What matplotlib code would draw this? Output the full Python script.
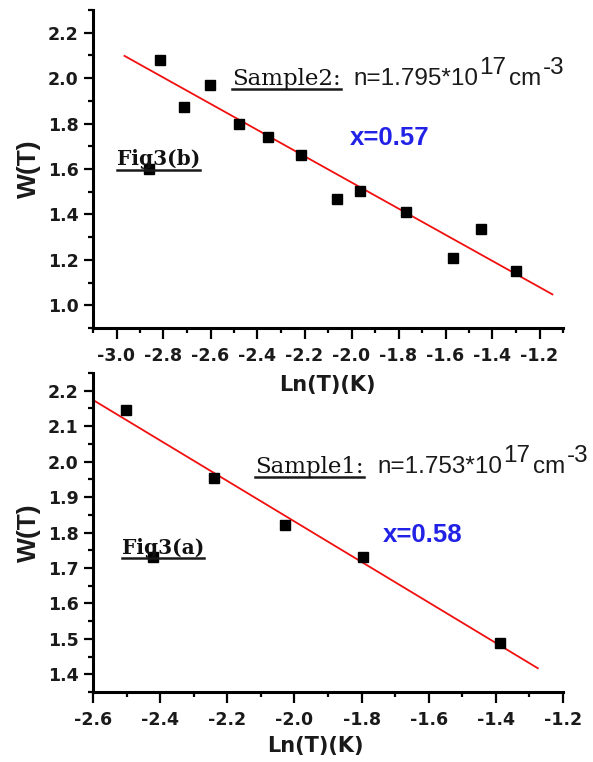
import matplotlib
matplotlib.use("Agg")
import matplotlib.pyplot as plt
from matplotlib.ticker import MultipleLocator, FormatStrFormatter
from matplotlib.lines import Line2D

# ---- Sample 2 : Fig3(b) ----
lnT_b = [-2.817, -2.711, -2.604, -2.477, -2.357, -2.213, -2.060, -1.962,
         -1.770, -1.570, -1.451, -1.298, -2.860]
W_b = [2.081, 1.871, 1.971, 1.796, 1.740, 1.661, 1.468, 1.503,
       1.411, 1.210, 1.337, 1.149, 1.600]
fit_x_b = [-2.966, -1.145]
fit_y_b = [2.098, 1.048]

# ---- Sample 1 : Fig3(a) ----
lnT_a = [-2.501, -2.421, -2.239, -2.027, -1.797, -1.388]
W_a = [2.146, 1.731, 1.954, 1.821, 1.731, 1.488]
fit_x_a = [-2.600, -1.275]
fit_y_a = [2.174, 1.417]

xlabel = "Ln(T)(K)"
ylabel = "W(T)"

W_PX, H_PX = 593, 762
DPI = 100
plt.rcParams["axes.unicode_minus"] = False

fig = plt.figure(figsize=(W_PX / DPI, H_PX / DPI), dpi=DPI)
fig.patch.set_facecolor("white")


def px_axes(left, top, right, bottom):
    ax = fig.add_axes([left / W_PX, 1 - bottom / H_PX,
                       (right - left) / W_PX, (bottom - top) / H_PX])
    ax.patch.set_visible(False)
    return ax


def style(ax, xmaj, xmin, ymaj, ymin):
    for s in ("top", "right"):
        ax.spines[s].set_visible(False)
    for s in ("left", "bottom"):
        ax.spines[s].set_linewidth(2.2)
    ax.xaxis.set_major_locator(MultipleLocator(xmaj))
    ax.xaxis.set_minor_locator(MultipleLocator(xmin))
    ax.yaxis.set_major_locator(MultipleLocator(ymaj))
    ax.yaxis.set_minor_locator(MultipleLocator(ymin))
    ax.xaxis.set_major_formatter(FormatStrFormatter("%.1f"))
    ax.yaxis.set_major_formatter(FormatStrFormatter("%.1f"))
    ax.tick_params(axis="x", which="major", direction="out", length=8,
                   width=1.6, pad=5.5)
    ax.tick_params(axis="x", which="minor", direction="out", length=3.5,
                   width=1.6)
    ax.tick_params(axis="y", which="major", direction="out", length=6.5,
                   width=1.6, pad=4)
    ax.tick_params(axis="y", which="minor", direction="out", length=3.5,
                   width=1.6)
    for lab in ax.get_xticklabels() + ax.get_yticklabels():
        lab.set_fontfamily("DejaVu Sans")
        lab.set_fontweight("bold")
        lab.set_fontsize(12.5)
        lab.set_color("#1a1a1a")
    ax.set_ylabel(ylabel, family="Liberation Sans", weight="bold",
                  fontsize=19, va="center", color="#1a1a1a")
    ax.set_xlabel(xlabel, family="DejaVu Sans", weight="bold",
                  fontsize=15, va="center", color="#1a1a1a")


# top panel
ax_b = px_axes(93, 10, 563, 328)
ax_b.plot(fit_x_b, fit_y_b, color="#f01010", lw=1.3, zorder=2)
ax_b.plot(lnT_b, W_b, "s", color="black", ms=6.5, zorder=3)
ax_b.set_xlim(-3.1, -1.1)
ax_b.set_ylim(0.9, 2.3)
style(ax_b, 0.2, 0.1, 0.2, 0.1)
ax_b.yaxis.set_label_coords((29 - 93) / 470, 0.5)
ax_b.xaxis.set_label_coords((327.5 - 93) / 470, (328 - 385) / 318)

# bottom panel
ax_a = px_axes(93, 373, 563, 692)
ax_a.plot(fit_x_a, fit_y_a, color="#f01010", lw=1.3, zorder=2)
ax_a.plot(lnT_a, W_a, "s", color="black", ms=6.5, zorder=3)
ax_a.set_xlim(-2.6, -1.2)
ax_a.set_ylim(1.35, 2.25)
style(ax_a, 0.2, 0.1, 0.1, 0.05)
ax_a.yaxis.set_label_coords((29 - 93) / 470, 0.5)
ax_a.xaxis.set_label_coords((315.5 - 93) / 470, (692 - 746) / 319)

fig.canvas.draw()
renderer = fig.canvas.get_renderer()


def put(x_px, base_px, s, **kw):
    return fig.text(x_px / W_PX, 1 - base_px / H_PX, s, ha="left",
                    va="baseline", **kw)


def underline(t, base_px, offset=4, lw=1.8):
    bb = t.get_window_extent(renderer)
    y = 1 - (base_px + offset) / H_PX
    fig.add_artist(Line2D([bb.x0 / W_PX, bb.x1 / W_PX], [y, y],
                          transform=fig.transFigure, color="#1a1a1a", lw=lw))


def density(x_px, base_px, mantissa, exp, unit, uexp, size=17.5, rise=11):
    parts = [(mantissa, 0, 1), (exp, rise, 3), (unit, 0, 2), (uexp, rise, 0)]
    x = x_px
    for s, r, gap in parts:
        t = put(x, base_px - r, s, family="Liberation Sans", fontsize=size,
                color="#1a1a1a")
        bb = t.get_window_extent(renderer)
        x = bb.x1 + gap


serif = dict(family="DejaVu Serif", color="#111111")

# annotations, top panel
t = put(232, 85, "Sample2:", fontsize=16.5, **serif)
underline(t, 85)
density(353, 85, "n=1.795*10", "17", "cm", "-3")
put(350, 145, "x=0.57", family="Liberation Sans", weight="bold",
    fontsize=18.5, color="#2222e6")
t = put(117, 165, "Fig3(b)", fontsize=14.5, weight="bold", **serif)
underline(t, 165, offset=5)

# annotations, bottom panel
t = put(255, 473, "Sample1:", fontsize=16.5, **serif)
underline(t, 473)
density(377, 473, "n=1.753*10", "17", "cm", "-3")
put(383, 542, "x=0.58", family="Liberation Sans", weight="bold",
    fontsize=18.5, color="#2222e6")
t = put(122, 554, "Fig3(a)", fontsize=14.5, weight="bold", **serif)
underline(t, 554, offset=4)

fig.savefig("out.png", dpi=DPI, facecolor="white")
